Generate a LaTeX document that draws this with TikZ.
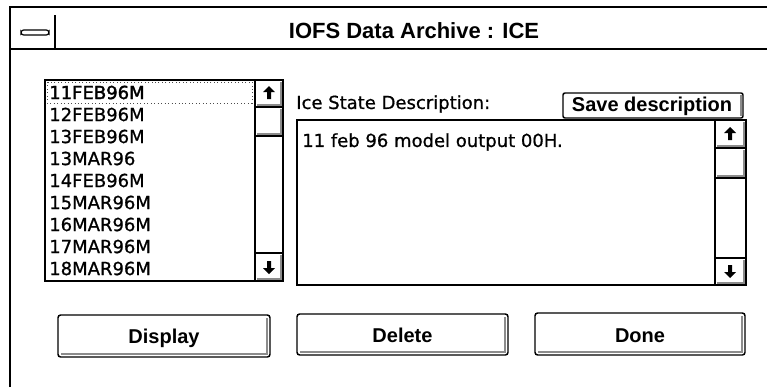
\documentclass[tikz,border=0pt]{standalone}
\usepackage{fontspec}
\setmainfont{DejaVu Sans}
\newfontfamily\uibold{Liberation Sans Bold}
\newfontfamily\uiheavy[FakeBold=0.8]{DejaVu Sans}
\newfontfamily\uiheavier[FakeBold=2]{DejaVu Sans}
\begin{document}
\begin{tikzpicture}[x=0.75pt,y=-0.75pt,
  frame/.style={draw=black,line width=1.1pt},
  thin frame/.style={draw=black,line width=0.9pt},
  shade edge/.style={draw=black!45,line width=1.1pt},
  uitext/.style={inner sep=0pt,font=\uiheavy\fontsize{13.5}{16}\selectfont},
  btntext/.style={inner sep=0pt,font=\uibold\fontsize{15}{18}\selectfont},
  btnlabel/.style={btntext,anchor=base},
  listitem/.style={uitext,anchor=west},
  arrowglyph/.style={fill=black,draw=none}
]
% page
\useasboundingbox[fill=white] (0,0) rectangle (767,387);

% ---- dialog window and title bar
\draw[frame] (10,387) -- (10,7) -- (767,7);
\draw[draw=black,line width=1.5pt] (10,49) -- (767,49);
\draw[thin frame] (55,15) -- (55,49);
\draw[thin frame,rounded corners=2pt] (21,30) rectangle (49,35);
\node[inner sep=0pt,font=\uibold\fontsize{16.5}{20}\selectfont] (title) at (414,31) {IOFS Data Archive : ICE};

% ---- up / down arrow glyphs of the scroll bars
\newcommand{\uparrowglyph}[2]{%
  \fill[arrowglyph] (#1-6,#2-1) -- (#1,#2-7) -- (#1+6,#2-1) -- (#1+2,#2-1) -- (#1+2,#2+6)
     -- (#1-2,#2+6) -- (#1-2,#2-1) -- cycle;}
\newcommand{\downarrowglyph}[2]{%
  \fill[arrowglyph] (#1-6,#2+1) -- (#1,#2+7) -- (#1+6,#2+1) -- (#1+2,#2+1) -- (#1+2,#2-6)
     -- (#1-2,#2-6) -- (#1-2,#2+1) -- cycle;}

% ---- date list box
\draw[frame] (45,80) rectangle (283,281);
\draw[frame] (255,80) -- (255,281);
\draw[frame] (255,107) -- (283,107);
\draw[frame] (255,136) -- (283,136);
\draw[frame] (255,253) -- (283,253);
\draw[shade edge] (281,82) -- (281,105) -- (257,105);
\draw[shade edge] (281,109) -- (281,134) -- (257,134);
\draw[shade edge] (281,255) -- (281,279) -- (257,279);
\uparrowglyph{269}{93}
\downarrowglyph{269}{267}
\draw[black!70,line width=0.6pt,dotted] (47,82) rectangle (252,103);
\node[listitem,font=\uiheavier\fontsize{13.5}{16}\selectfont] (d1) at (49,92.5)  {11FEB96M};
\node[listitem] (d2) at (49,114.5) {12FEB96M};
\node[listitem] (d3) at (49,136.5) {13FEB96M};
\node[listitem] (d4) at (49,158.5) {13MAR96};
\node[listitem] (d5) at (49,180.5) {14FEB96M};
\node[listitem] (d6) at (49,202.5) {15MAR96M};
\node[listitem] (d7) at (49,224.5) {16MAR96M};
\node[listitem] (d8) at (49,246.5) {17MAR96M};
\node[listitem] (d9) at (49,268.5) {18MAR96M};

% ---- description label, save button and text area
\node[uitext,anchor=west] (desclabel) at (296,104) {Ice State Description:};
\draw[frame,rounded corners=1.5pt] (563,93) rectangle (743,118);
\draw[shade edge] (741,95) -- (741,116);
\node[btntext] (save) at (652,106) {Save description};

\draw[frame] (297,120) rectangle (746,285);
\draw[frame] (715,120) -- (715,285);
\draw[frame] (715,148) -- (746,148);
\draw[frame] (715,178) -- (746,178);
\draw[frame] (715,258) -- (746,258);
\draw[shade edge] (744,122) -- (744,146) -- (717,146);
\draw[shade edge] (744,150) -- (744,176) -- (717,176);
\draw[shade edge] (744,260) -- (744,283) -- (717,283);
\uparrowglyph{730}{134}
\downarrowglyph{730}{271}
\node[uitext,anchor=west] (desctext) at (302,142) {11 feb 96 model output 00H.};

% ---- push buttons
\draw[frame,rounded corners=2pt] (58,315) rectangle (270,357);
\draw[shade edge] (267,318) -- (267,354) -- (61,354);
\node[btnlabel] (display) at (164,343) {Display};

\draw[frame,rounded corners=2pt] (297,314) rectangle (508,355);
\draw[shade edge] (505,317) -- (505,352) -- (300,352);
\node[btnlabel] (delete) at (402.5,342) {Delete};

\draw[frame,rounded corners=2pt] (535,313) rectangle (745,355);
\draw[shade edge] (742,316) -- (742,352) -- (538,352);
\node[btnlabel] (done) at (640,342) {Done};
\end{tikzpicture}
\end{document}
